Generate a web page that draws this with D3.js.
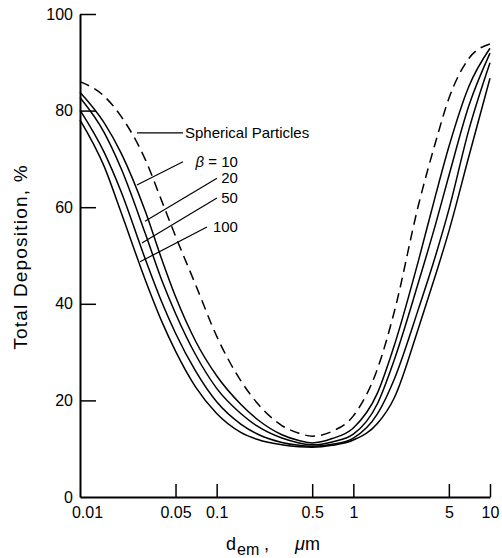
<!DOCTYPE html>
<html>
<head>
<meta charset="utf-8">
<script src="https://cdn.jsdelivr.net/npm/d3@7"></script>
<style>
  html, body { margin: 0; padding: 0; background: #fff; }
  svg { display: block; font-family: "Liberation Sans", Arial, sans-serif; }
</style>
</head>
<body>
<div id="chart"></div>
<script>
const diam = [0.01, 0.015, 0.02, 0.03, 0.04, 0.05, 0.07, 0.1, 0.15, 0.2, 0.3, 0.4, 0.5,
              0.7, 1, 1.5, 2, 3, 4, 5, 7, 10];

// total deposition (%) for each curve
const spherical = [86, 83, 78.8, 69.9, 61, 54, 44, 33.3, 24.1, 19.3, 14.8, 13.2, 12.6,
                   13.6, 16.8, 26.5, 38.5, 60.5, 73.5, 82.5, 90.8, 93.8];
const beta10  = [83.8, 77.5, 71.2, 59.2, 48.9, 41.5, 32.3, 25.1, 19.2, 16.0, 12.9, 11.7, 11.2,
                 12.1, 14.3, 21.5, 31.5, 49, 62.5, 72.5, 85, 92.9];
const beta20  = [82.7, 75.5, 68.0, 54.6, 44.6, 38.0, 29.5, 22.5, 17.3, 14.6, 12.2, 11.2, 10.8,
                 11.4, 13.0, 19.3, 28.5, 44.5, 56.5, 66.5, 81, 91.9];
const beta50  = [80.1, 71.4, 63.2, 49.3, 40.1, 33.9, 26.1, 19.7, 15.1, 13.0, 11.3, 10.7, 10.5,
                 10.9, 12.2, 17.2, 24.5, 39, 50, 59.5, 76, 89.9];
const beta100 = [78.1, 68.5, 58.9, 45.0, 36.1, 30.2, 22.8, 17.3, 13.4, 11.9, 10.8, 10.4, 10.3,
                 10.7, 11.8, 15.2, 20.6, 35, 46, 55, 70.5, 86.7];

// tick labels
const xTicks = [0.01, 0.05, 0.1, 0.5, 1, 5, 10];
const xTickLabels = ["0.01", "0.05", "0.1", "0.5", "1", "5", "10"];
const yTicks = [0, 20, 40, 60, 80, 100];

// labels and their leader lines, in data units: [d, value] from curve -> label
const labelNames = ["Spherical Particles", "10", "20", "50", "100"];
const leaderFrom = [[0.0261, 75.4], [0.0261, 64.6], [0.0299, 57.1], [0.0284, 52.6], [0.0275, 48.7]];
const leaderTo   = [[0.0567, 75.4], [0.0567, 69.4], [0.1005, 66.0], [0.1005, 61.9], [0.0849, 55.9]];

(function () {
  const W = 502, H = 558;

  // 1) svg
  const svg = d3.select("#chart").append("svg")
    .attr("width", W).attr("height", H);

  // 2) scales
  const x = d3.scaleLog().domain([0.01, 10]).range([80, 490]);
  const y = d3.scaleLinear().domain([0, 100]).range([497, 14]);

  // 3) axes (ticks point inward)
  const xAxis = d3.axisBottom(x)
    .tickValues(xTicks)
    .tickFormat((d, i) => xTickLabels[i])
    .tickSizeInner(-13).tickSizeOuter(0).tickPadding(10);

  const yAxis = d3.axisLeft(y)
    .tickValues(yTicks)
    .tickSizeInner(-16).tickSizeOuter(0).tickPadding(7);

  const gx = svg.append("g")
    .attr("transform", `translate(0,${y(0)})`)
    .call(xAxis);
  const gy = svg.append("g")
    .attr("transform", `translate(${x(0.01)},0)`)
    .call(yAxis);

  [gx, gy].forEach(g => {
    g.attr("font-family", null).attr("font-size", null);
    g.select(".domain").attr("stroke", "#000").attr("stroke-width", 2);
    g.selectAll(".tick line").attr("stroke", "#000").attr("stroke-width", 1.5);
    g.selectAll(".tick text").attr("fill", "#000").style("font-size", "16px");
  });
  gy.selectAll(".tick").filter(d => d === 0).select("line").remove();
  gx.selectAll(".tick").filter(d => d === 0.01).select("line").remove();
  gx.selectAll(".tick").filter(d => d === 0.01).select("text").attr("dx", 7);

  // 4) curves
  const line = d3.line()
    .x((d, i) => x(diam[i]))
    .y(d => y(d))
    .curve(d3.curveMonotoneX);

  const series = [
    { vals: spherical, dash: "10,6" },
    { vals: beta10,  dash: null },
    { vals: beta20,  dash: null },
    { vals: beta50,  dash: null },
    { vals: beta100, dash: null }
  ];

  svg.append("g").selectAll("path.curve")
    .data(series)
    .join("path")
    .attr("class", "curve")
    .attr("d", s => line(s.vals))
    .attr("fill", "none")
    .attr("stroke", "#000")
    .attr("stroke-width", 1.5)
    .attr("stroke-dasharray", s => s.dash);

  // 5) leader lines + labels
  svg.append("g").selectAll("line")
    .data(labelNames)
    .join("line")
    .attr("x1", (d, i) => x(leaderFrom[i][0]))
    .attr("y1", (d, i) => y(leaderFrom[i][1]))
    .attr("x2", (d, i) => x(leaderTo[i][0]))
    .attr("y2", (d, i) => y(leaderTo[i][1]))
    .attr("stroke", "#000")
    .attr("stroke-width", 1.2);

  // spherical label starts right after its leader, beta labels end at a common x
  svg.append("text")
    .attr("x", x(leaderTo[0][0]) + 2)
    .attr("y", y(leaderTo[0][1]))
    .attr("dy", "0.35em")
    .style("font-size", "15px")
    .text(labelNames[0]);

  const betaX = x(0.1432);
  labelNames.slice(1).forEach((name, j) => {
    const i = j + 1;
    const t = svg.append("text")
      .attr("x", betaX)
      .attr("y", y(leaderTo[i][1]))
      .attr("dy", "0.35em")
      .attr("text-anchor", "end")
      .style("font-size", "15px");
    if (i === 1) {
      t.append("tspan").style("font-style", "italic").text("β");
      t.append("tspan").text(" = " + name);
    } else {
      t.text(name);
    }
  });

  // 6) axis titles
  const xt = svg.append("text").attr("y", 550).style("font-size", "18px");
  xt.append("tspan").attr("x", 226).text("d");
  xt.append("tspan").attr("x", 237).attr("dy", 5).style("font-size", "16px").text("em");
  xt.append("tspan").attr("x", 264).attr("dy", -5).text(",");
  xt.append("tspan").attr("x", 295).style("font-style", "italic").text("μ");
  xt.append("tspan").text("m");

  svg.append("text")
    .attr("transform", "translate(27,257) rotate(-90)")
    .attr("text-anchor", "middle")
    .style("font-size", "19px")
    .style("letter-spacing", "1.2px")
    .text("Total  Deposition,  %");
})();
</script>
</body>
</html>
